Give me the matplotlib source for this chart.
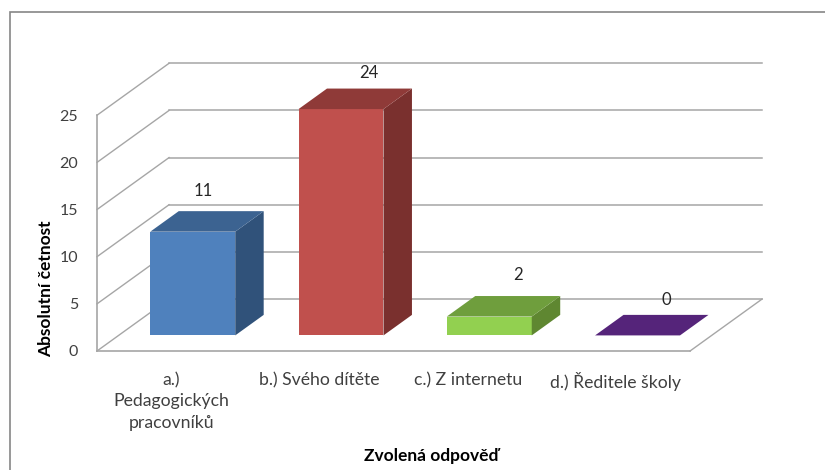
import matplotlib.pyplot as plt
from matplotlib.patches import Polygon, Rectangle

categories = ["a.)\nPedagogických\npracovníků", "b.) Svého dítěte", "c.) Z internetu", "d.) Ředitele školy"]
values = [11, 24, 2, 0]
y_ticks = [0, 5, 10, 15, 20, 25]
x_title = "Zvolená odpověď"
y_title = "Absolutní četnost"

front_colors = ["#4F81BD", "#C0504D", "#92D050", "#55247A"]
top_colors = ["#3C6391", "#8F3A38", "#6F9E3D", "#55247A"]
side_colors = ["#30527A", "#7A302E", "#5F8731", "#55247A"]

# label offsets in pixels from the bar's back top edge
label_dx = [-18, -1, 0, 0]
label_dy = [20, 16, 21, 15]

# oblique depth of the floor, in data units
depth_x = 0.486
depth_y = 5.51
bar_width = 0.573
bar_front = 0.30
bar_back = 0.695

GRID = "#A6A6A6"
TEXT = "#404040"

plt.rcParams["font.family"] = ["Lato", "DejaVu Sans"]


def project(x, v, d):
    return x + d * depth_x, v + d * depth_y


def box(ax, x0, v, color_front, color_top, color_side):
    x1 = x0 + bar_width
    front = [project(x0, 0, bar_front), project(x1, 0, bar_front),
             project(x1, v, bar_front), project(x0, v, bar_front)]
    top = [project(x0, v, bar_front), project(x1, v, bar_front),
           project(x1, v, bar_back), project(x0, v, bar_back)]
    side = [project(x1, 0, bar_front), project(x1, 0, bar_back),
            project(x1, v, bar_back), project(x1, v, bar_front)]
    if v > 0:
        ax.add_patch(Polygon(front, closed=True, fc=color_front, ec="none", zorder=3))
        ax.add_patch(Polygon(side, closed=True, fc=color_side, ec="none", zorder=3))
    ax.add_patch(Polygon(top, closed=True, fc=color_top, ec="none", zorder=3))


fig = plt.figure(figsize=(8.25, 4.7), dpi=100)
ax = fig.add_axes([97 / 825, (470 - 351) / 470, 666 / 825, 288 / 470])
ax.set_xlim(0, 4.492)
ax.set_ylim(0, 30.54)
ax.patch.set_alpha(0)

n = len(categories)

# back gridlines and the floor/side walls
for t in y_ticks:
    bx, by = project(0, t, 1)
    ex, _ = project(n, t, 1)
    ax.plot([bx, ex], [by, by], color=GRID, lw=1.1, zorder=1, clip_on=False)
    ax.plot([0, bx], [t, by], color=GRID, lw=1.0, zorder=1, clip_on=False)
rx, ry = project(n, 0, 1)
ax.plot([n, rx], [0, ry], color=GRID, lw=1.0, zorder=1, clip_on=False)

for i, v in enumerate(values):
    x0 = i + (1 - bar_width) / 2
    box(ax, x0, v, front_colors[i], top_colors[i], side_colors[i])
    lx, ly = project(x0 + bar_width / 2, v, bar_back)
    ax.annotate(str(v), (lx, ly), xytext=(label_dx[i] * 0.72, label_dy[i] * 0.72),
                textcoords="offset points", ha="center", va="center",
                fontsize=12, color="#262626", zorder=4)

for name in ["top", "right"]:
    ax.spines[name].set_visible(False)
ax.spines["left"].set_bounds(0, 25)
ax.spines["bottom"].set_bounds(0, n)
for name in ["left", "bottom"]:
    ax.spines[name].set_color(GRID)
    ax.spines[name].set_linewidth(1.2)

ax.set_yticks(y_ticks)
ax.set_xticks([i + 0.5 for i in range(n)])
ax.set_xticklabels(categories, linespacing=1.42)
ax.tick_params(axis="y", length=0, pad=13.5, labelsize=11.5, labelcolor=TEXT)
ax.tick_params(axis="x", length=0, pad=15, labelsize=12.7, labelcolor=TEXT)

ax.set_xlabel(x_title, fontsize=12.5, fontweight="bold", color="black", va="center")
ax.xaxis.set_label_coords(0.5015, -0.365)
ax.set_ylabel(y_title, fontsize=12.5, fontweight="bold", color="black", va="center")
ax.yaxis.set_label_coords(-0.0766, 0.215)

# outer chart frame, runs off the right and bottom of the picture
fig.add_artist(Rectangle((10 / 825, -0.05), 1.1, (470 - 12) / 470 + 0.05, transform=fig.transFigure,
                         fc="none", ec="#868686", lw=1.2, zorder=0))

fig.savefig("out.png", dpi=100, facecolor="white")
